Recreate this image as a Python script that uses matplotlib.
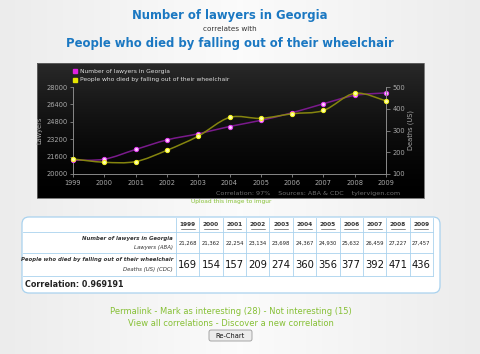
import numpy as np
import matplotlib
matplotlib.use('Agg')
import matplotlib.pyplot as plt
from matplotlib.path import Path
from matplotlib.patches import PathPatch, FancyBboxPatch, Rectangle

# ─── data ───────────────────────────────────────────────────────────────
years = [1999, 2000, 2001, 2002, 2003, 2004, 2005, 2006, 2007, 2008, 2009]
lawyers = [21268, 21362, 22254, 23134, 23698, 24367, 24930, 25632, 26459, 27227, 27457]
deaths = [169, 154, 157, 209, 274, 360, 356, 377, 392, 471, 436]
lawyer_labels = ['21,268', '21,362', '22,254', '23,134', '23,698', '24,367',
                 '24,930', '25,632', '26,459', '27,227', '27,457']
title_a = 'Number of lawyers in Georgia'
title_b = 'People who died by falling out of their wheelchair'
correlation = 0.969191

W, H = 480, 354
BLUE = '#1b78c2'
GREEN = '#86c035'
GRID_BLUE = '#a9d2ee'


def spline_path(x, y):
    # catmull-rom through the points, drawn as bezier segments
    x = np.asarray(x, float)
    y = np.asarray(y, float)
    verts = [(x[0], y[0])]
    codes = [Path.MOVETO]
    n = len(x)
    for i in range(n - 1):
        x0, y0 = (x[i - 1], y[i - 1]) if i > 0 else (x[i], y[i])
        x3, y3 = (x[i + 2], y[i + 2]) if i + 2 < n else (x[i + 1], y[i + 1])
        c1 = (x[i] + (x[i + 1] - x0) / 6, y[i] + (y[i + 1] - y0) / 6)
        c2 = (x[i + 1] - (x3 - x[i]) / 6, y[i + 1] - (y3 - y[i]) / 6)
        verts += [c1, c2, (x[i + 1], y[i + 1])]
        codes += [Path.CURVE4] * 3
    return Path(verts, codes)


fig = plt.figure(figsize=(W / 100, H / 100), dpi=100)
fig.patch.set_facecolor('#f2f2f2')

# background axes in pixel coordinates
bg = fig.add_axes([0, 0, 1, 1])
bg.set_xlim(0, W)
bg.set_ylim(H, 0)
bg.axis('off')

# page gradient
grad = np.linspace(0, 1, 200)[None, :]
page = 1 - 0.06 * np.abs(grad - 0.5) * 2
bg.imshow(np.dstack([page * 0.985] * 3), extent=(0, W, H, 0), aspect='auto', zorder=0)

# titles
bg.text(230, 16, title_a, color=BLUE, fontsize=8.4, fontweight='bold', ha='center', va='center')
bg.text(230, 29, 'correlates with', color='#333333', fontsize=5.2, ha='center', va='center')
bg.text(230, 44, title_b, color=BLUE, fontsize=8.4, fontweight='bold', ha='center', va='center')

# chart box
cg = np.linspace(0, 1, 100)[:, None]
shade = 0.16 * (1 - cg) ** 1.5
bg.imshow(np.dstack([shade] * 3), extent=(37, 424, 198, 63), aspect='auto', zorder=1)
bg.add_patch(Rectangle((37, 63), 387, 135, fill=False, ec='#666666', lw=0.6, zorder=2))

# legend
bg.plot(75, 71, 's', ms=2.3, color='#e020e0', zorder=3)
bg.text(80, 71, title_a, color='#dddddd', fontsize=4.3, va='center', zorder=3)
bg.plot(75, 80, 's', ms=2.3, color='#e6e600', zorder=3)
bg.text(80, 80, title_b, color='#dddddd', fontsize=4.3, va='center', zorder=3)

bg.text(400, 193, 'Correlation: 97%    Sources: ABA & CDC    tylervigen.com',
        color='#6e6e6e', fontsize=4.6, ha='right', va='center', zorder=3)
bg.text(231, 202, 'Upload this image to imgur', color=GREEN, fontsize=4.2,
        ha='center', va='center')

# plot area
ax = fig.add_axes([73 / W, 1 - 174 / H, 313 / W, 87 / H])
ax.set_facecolor('none')
ax.set_xlim(1999, 2009)
ax.set_ylim(20000, 28000)
ax.set_yticks(np.arange(20000, 28001, 1600))
ax.set_xticks(years)
ax.spines['top'].set_visible(False)
for s in ['left', 'bottom', 'right']:
    ax.spines[s].set_color('#888888')
    ax.spines[s].set_linewidth(0.7)
ax.tick_params(colors='#888888', labelcolor='#aaaaaa', labelsize=4.8, length=2.5, width=0.6, pad=1.5)
ax.set_ylabel('Lawyers', color='#aaaaaa', fontsize=4.8, labelpad=3)

ax2 = ax.twinx()
ax2.set_ylim(100, 500)
ax2.set_yticks(np.arange(100, 501, 100))
for s in ['top', 'left', 'bottom']:
    ax2.spines[s].set_visible(False)
ax2.spines['right'].set_color('#888888')
ax2.spines['right'].set_linewidth(0.7)
ax2.tick_params(colors='#888888', labelcolor='#aaaaaa', labelsize=4.8, length=3, width=0.6, pad=1.5)
ax2.set_ylabel('Deaths (US)', color='#aaaaaa', fontsize=4.8, labelpad=2)

ax.add_patch(PathPatch(spline_path(years, lawyers), fill=False, ec='#7a1a8c', lw=1.1, zorder=3))
ax.plot(years, lawyers, 'o', ms=3, mfc='#ffd0ff', mec='#e040f0', mew=0.8, zorder=4, clip_on=False)
ax2.add_patch(PathPatch(spline_path(years, deaths), fill=False, ec='#85850e', lw=1.1, zorder=3))
ax2.plot(years, deaths, 'o', ms=3, mfc='#ffffb0', mec='#f0f020', mew=0.8, zorder=4, clip_on=False)

# table
bg.add_patch(FancyBboxPatch((22, 217), 418, 76, boxstyle='round,pad=0,rounding_size=7',
                            fc='white', ec=GRID_BLUE, lw=0.9, zorder=1))
cols = np.linspace(176, 433, len(years) + 1)
for cx in cols:
    bg.plot([cx, cx], [218, 276], color=GRID_BLUE, lw=0.6, zorder=2)
for ry in [232, 253, 276]:
    bg.plot([23, 433], [ry, ry], color=GRID_BLUE, lw=0.6, zorder=2)

for i, yr in enumerate(years):
    cx = (cols[i] + cols[i + 1]) / 2
    bg.text(cx, 225, str(yr), fontsize=4.2, fontweight='bold', color='#333333',
            ha='center', va='center', zorder=3)
    bg.plot([cx - 7, cx + 7], [228.5, 228.5], color='#333333', lw=0.4, zorder=3)
    bg.text(cx, 243, lawyer_labels[i], fontsize=3.8, color='#222222',
            ha='center', va='center', zorder=3)
    bg.text(cx, 264.5, str(deaths[i]), fontsize=7.2, color='#111111',
            ha='center', va='center', zorder=3)

bg.text(173, 238.5, title_a, fontsize=3.9, style='italic', fontweight='bold',
        color='#333333', ha='right', va='center', zorder=3)
bg.text(173, 247, 'Lawyers (ABA)', fontsize=3.9, style='italic', color='#333333',
        ha='right', va='center', zorder=3)
bg.text(173, 260, title_b, fontsize=3.9, style='italic', fontweight='bold',
        color='#333333', ha='right', va='center', zorder=3)
bg.text(173, 269, 'Deaths (US) (CDC)', fontsize=3.9, style='italic', color='#333333',
        ha='right', va='center', zorder=3)
bg.text(25, 284.5, f'Correlation: {correlation:.6f}', fontsize=5.8, fontweight='bold',
        color='#222222', ha='left', va='center', zorder=3)

# links
bg.text(231, 312, 'Permalink - Mark as interesting (28) - Not interesting (15)',
        color=GREEN, fontsize=6.0, ha='center', va='center')
bg.text(231, 323, 'View all correlations - Discover a new correlation',
        color=GREEN, fontsize=6.0, ha='center', va='center')
bg.add_patch(FancyBboxPatch((209, 330), 43, 11, boxstyle='round,pad=0,rounding_size=2',
                            fc='#ececec', ec='#999999', lw=0.6, zorder=2))
bg.text(230.5, 335.5, 'Re-Chart', fontsize=4.8, color='#111111', ha='center', va='center', zorder=3)

fig.savefig('out.png', dpi=100, facecolor=fig.get_facecolor())
plt.close(fig)
